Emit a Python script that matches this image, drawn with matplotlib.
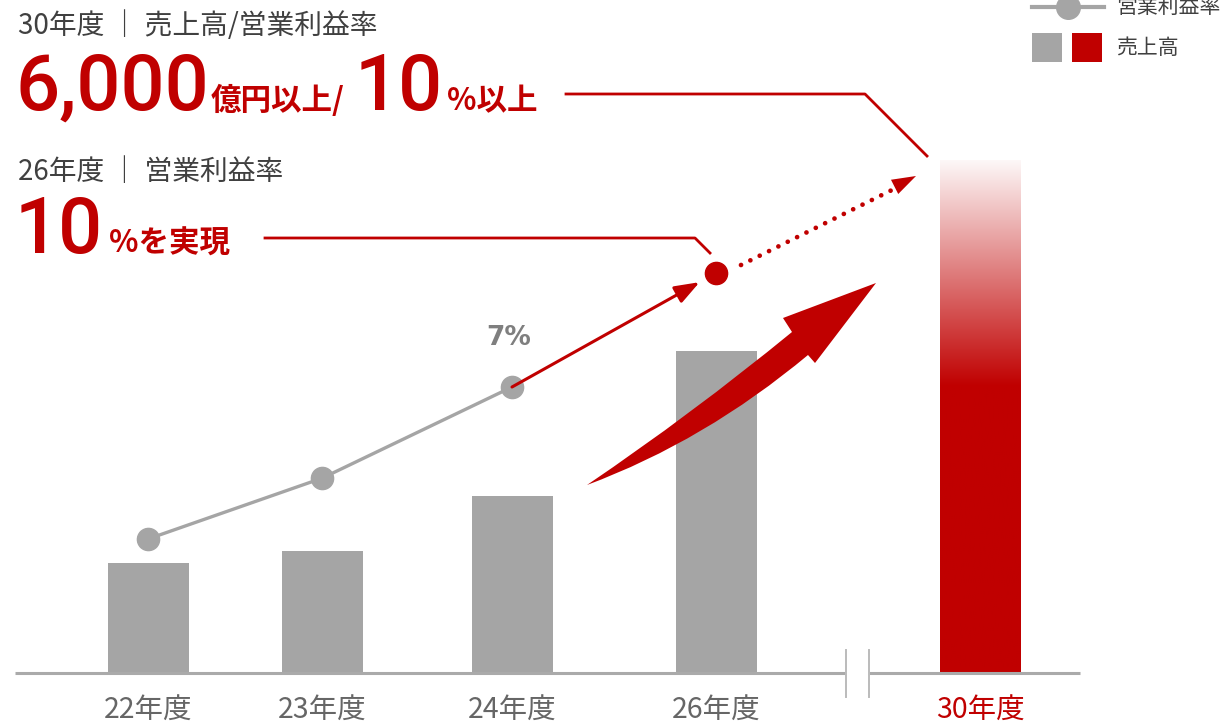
import numpy as np
import matplotlib
matplotlib.use('Agg')
import matplotlib.pyplot as plt
import matplotlib.colors as mcolors
from matplotlib.path import Path
from matplotlib.patches import PathPatch, Polygon, Rectangle
from matplotlib.lines import Line2D

plt.rcParams['font.family'] = ['Noto Sans CJK JP', 'DejaVu Sans']

# data
years = ['22年度', '23年度', '24年度', '26年度', '30年度']
sales = [1290, 1430, 2070, 3770, 6000]      # 売上高 (億円, estimated)
margin = [3.0, 4.6, 7.0, 10.0]               # 営業利益率 (%) for 22,23,24,26
margin_label = '7%'

# layout
x_pos = [148, 322, 512, 716, 980]
bar_w = 81
W, H = 1224, 725
RED = '#C00000'
GRAY = '#A5A5A5'
TXT = '#404040'

fig = plt.figure(figsize=(W / 100, H / 100), dpi=100)

# bars
base = 52
ax = fig.add_axes([0, base / H, 1, (H - base) / H])
ax.bar(x_pos[:4], sales[:4], width=bar_w, color=GRAY, zorder=2)

# gradient bar for 30年度
n = 256
t = np.linspace(0, 1, n)
w = np.clip((t - 0.56) / 0.44, 0, 1) * 0.97
red = np.array(mcolors.to_rgb(RED))
rgb = red[None, None, :] * (1 - w)[:, None, None] + w[:, None, None]
ax.imshow(rgb, extent=(x_pos[4] - bar_w / 2, x_pos[4] + bar_w / 2, 0, sales[4]),
          origin='lower', aspect='auto', interpolation='bilinear', zorder=2)
ax.set_xlim(0, W)
ax.set_ylim(0, (H - base) * sales[4] / 513)
ax.axis('off')

# operating margin line
ax2 = fig.add_axes([0, base / H, 1, (H - base) / H])
ax2.patch.set_alpha(0)
ax2.set_xlim(0, W)
ax2.set_ylim(-20 / 38, (H - base - 20) / 38)
ax2.axis('off')
ax2.annotate('', xy=(x_pos[3], margin[3]), xytext=(x_pos[2], margin[2]),
             arrowprops=dict(arrowstyle='-|>,head_length=1.5,head_width=0.55',
                             color=RED, lw=2.2, shrinkA=0, shrinkB=13.5))
ax2.plot(x_pos[:3], margin[:3], color=GRAY, lw=2.4, marker='o', ms=16,
         solid_capstyle='butt')
ax2.plot(x_pos[3], margin[3], 'o', color=RED, ms=16)
ax2.text(x_pos[2] - 3, margin[2] + 0.95, margin_label, ha='center', va='bottom',
         fontsize=19, fontweight='bold', color='#7F7F7F', family='DejaVu Sans')

# overlay in pixel coordinates for decorations and text
ov = fig.add_axes([0, 0, 1, 1])
ov.patch.set_alpha(0)
ov.set_xlim(0, W)
ov.set_ylim(H, 0)
ov.axis('off')

# axis line with break
ov.plot([15, 845], [673, 673], color='#AAAAAA', lw=2.2, solid_capstyle='butt')
ov.plot([869, 1080], [673, 673], color='#AAAAAA', lw=2.2, solid_capstyle='butt')
for bx in (846, 869):
    ov.plot([bx, bx], [650, 697], color='#BBBBBB', lw=1.4)

# big curved arrow
verts = [(587, 485), (692, 414), (792, 332), (783, 318), (876, 283),
         (815, 363), (808, 355), (705, 441), (587, 485), (587, 485)]
codes = [Path.MOVETO, Path.CURVE3, Path.CURVE3, Path.LINETO, Path.LINETO,
         Path.LINETO, Path.LINETO, Path.CURVE3, Path.CURVE3, Path.CLOSEPOLY]
ov.add_patch(PathPatch(Path(verts, codes), facecolor=RED, edgecolor='none', zorder=5))

# dotted arrow toward 30年度
ov.plot([741, 898], [265, 187], color=RED, lw=3.4, linestyle=(0, (0.01, 2.2)),
        dash_capstyle='round')
tip = np.array([916, 176.0])
d = tip - np.array([741, 265.0])
d /= np.hypot(*d)
nrm = np.array([-d[1], d[0]])
b0 = tip - d * 24
ov.add_patch(Polygon([tip, b0 + nrm * 8, b0 - nrm * 8], closed=True,
                     facecolor=RED, edgecolor='none'))

# leader lines
ov.plot([566, 865, 927], [94, 94, 156], color=RED, lw=2.0)
ov.plot([265, 695, 710], [238, 238, 253], color=RED, lw=2.0)

renderer = fig.canvas.get_renderer()


def run_text(x, y, parts):
    for s, size, fam, wt, gap in parts:
        x += gap
        t = ov.text(x, y, s, fontsize=size, fontweight=wt, color=RED,
                    family=fam, ha='left', va='baseline')
        x = t.get_window_extent(renderer).x1


CJK = ['Noto Sans CJK JP', 'DejaVu Sans']
NUM = ['Roboto', 'DejaVu Sans']

ov.text(18, 26, '30年度 ｜ 売上高/営業利益率', fontsize=20, color=TXT,
        ha='left', va='center')
run_text(15, 110, [('6,000', 56, NUM, 'medium', 0), ('億円以上/', 22, CJK, 'bold', 2),
                   ('10', 56, NUM, 'medium', 10), ('%以上', 22, CJK, 'bold', 4)])

ov.text(18, 172, '26年度 ｜ 営業利益率', fontsize=20, color=TXT,
        ha='left', va='center')
run_text(15, 253, [('10', 56, NUM, 'medium', 0), ('%を実現', 22, CJK, 'bold', 6)])

# category labels
for xp, lab in zip(x_pos, years):
    ov.text(xp, 711, lab, fontsize=20.5, ha='center', va='center',
            color=RED if lab == years[-1] else '#666666')

# legend
ov.add_line(Line2D([1032, 1104], [7, 7], color=GRAY, lw=3))
ov.plot(1068, 7, 'o', color=GRAY, ms=17)
ov.text(1116, 7, '営業利益率', fontsize=15, color=TXT, va='center', ha='left')
ov.add_patch(Rectangle((1032, 33), 30, 29, facecolor=GRAY, edgecolor='none'))
ov.add_patch(Rectangle((1072, 33), 30, 29, facecolor=RED, edgecolor='none'))
ov.text(1116, 48, '売上高', fontsize=15, color=TXT, va='center', ha='left')

fig.savefig('out.png', dpi=100)
